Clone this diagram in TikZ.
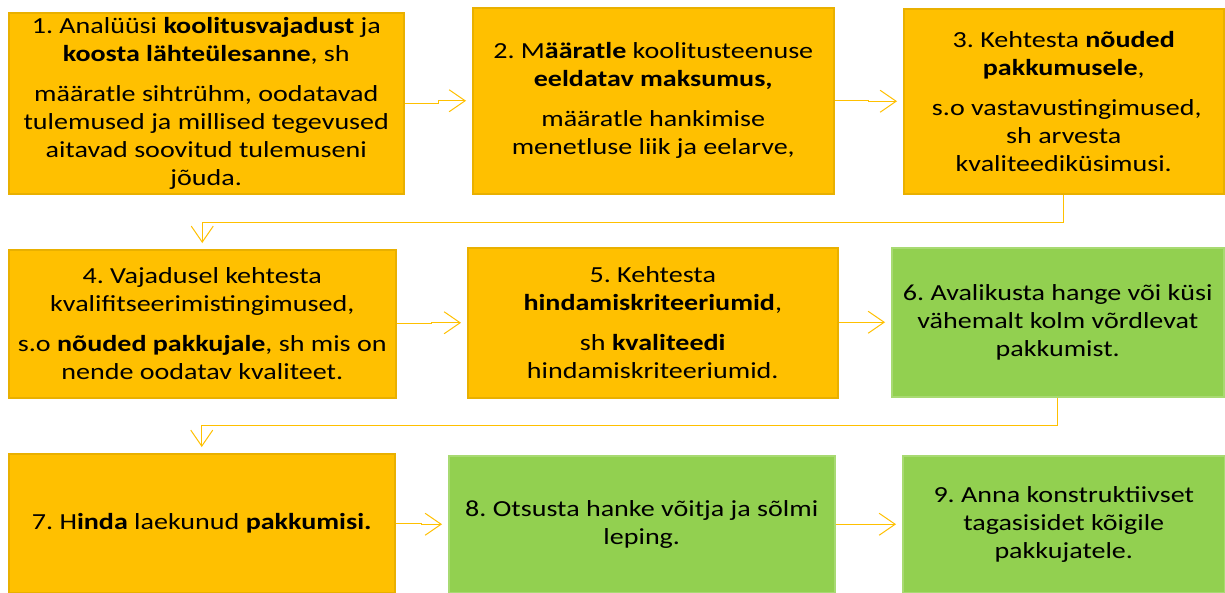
\documentclass[tikz,border=0pt]{standalone}
\usepackage{fontspec}
\setmainfont{Carlito}[FakeStretch=1.22]
\usetikzlibrary{arrows.meta,calc}
\definecolor{org}{HTML}{FFC000}
\definecolor{orgline}{HTML}{E9B000}
\definecolor{grn}{HTML}{92D050}
\definecolor{grnline}{HTML}{A8DA72}
\definecolor{connc}{HTML}{FFC000}
\frenchspacing
\begin{document}
\begin{tikzpicture}[x=1pt,y=-1pt,
 box/.style={anchor=north west, draw, line width=1.5pt, inner sep=0pt, align=center, font=\fontsize{23}{28}\selectfont\frenchspacing, text=black},
 obox/.style={box, fill=org, draw=orgline},
 gbox/.style={box, fill=grn, draw=grnline},
 conn/.style={draw=connc, line width=1pt, -{Straight Barb[length=16pt,width=22pt,line width=1pt]}, shorten >=6pt}]
\useasboundingbox (0,0) rectangle (1225,592);
\fill[white] (0,0) rectangle (1225,592);
% row 1
\node[obox, minimum width=395, minimum height=181] (b1) at (8,12) {1. Analüüsi \textbf{koolitusvajadust} ja\\
\textbf{koosta lähteülesanne}, sh\\[12pt]
määratle sihtrühm, oodatavad\\
tulemused ja millised tegevused\\
aitavad soovitud tulemuseni\\
jõuda.};
\node[obox, minimum width=361, minimum height=186] (b2) at (472,7) {2. M\textbf{ääratle} koolitusteenuse\\
\textbf{eeldatav maksumus,}\\[12pt]
määratle hankimise\\
menetluse liik ja eelarve,};
\node[obox, minimum width=320, minimum height=185] (b3) at (903,8) {3. Kehtesta \textbf{nõuded}\\
\textbf{pakkumusele},\\[12pt]
\hspace*{6pt}s.o vastavustingimused,\\
sh arvesta\\
kvaliteediküsimusi.};
% row 2
\node[obox, minimum width=387, minimum height=148] (b4) at (8,249) {4. Vajadusel kehtesta\\
kvalifitseerimistingimused,\\[12pt]
s.o \textbf{nõuded pakkujale}, sh mis on\\
nende oodatav kvaliteet.};
\node[obox, minimum width=370, minimum height=150] (b5) at (467,247) {5. Kehtesta\\
\textbf{hindamiskriteeriumid},\\[12pt]
sh \textbf{kvaliteedi}\\
hindamiskriteeriumid.};
\node[gbox, minimum width=332, minimum height=149] (b6) at (891,247) {6. Avalikusta hange või küsi\\
vähemalt kolm võrdlevat\\
pakkumist.};
% row 3
\node[obox, minimum width=386, minimum height=139] (b7) at (8,453) {7. H\textbf{inda} laekunud \textbf{pakkumisi.}};
\node[gbox, minimum width=386, minimum height=137] (b8) at (448,455) {8. Otsusta hanke võitja ja sõlmi\\
leping.};
\node[gbox, minimum width=322, minimum height=137] (b9) at (902,455) {9. Anna konstruktiivset\\
tagasisidet kõigile\\
pakkujatele.};
% connectors
\draw[conn] (b1.east) -| ($(b1.east)!0.5!(b2.west)$) |- (b2.west);
\draw[conn] (b2.east) -| ($(b2.east)!0.5!(b3.west)$) |- (b3.west);
\draw[conn] (b3.south) -- ++(0,28) -| (b4.north);
\draw[conn] (b4.east) -| ($(b4.east)!0.5!(b5.west)$) |- (b5.west);
\draw[conn] (b5.east) -| ($(b5.east)!0.5!(b6.west)$) |- (b6.west);
\draw[conn] (b6.south) -- ++(0,28) -| (b7.north);
\draw[conn] (b7.east) -| ($(b7.east)!0.5!(b8.west)$) |- (b8.west);
\draw[conn] (b8.east) -| ($(b8.east)!0.5!(b9.west)$) |- (b9.west);
\end{tikzpicture}
\end{document}
